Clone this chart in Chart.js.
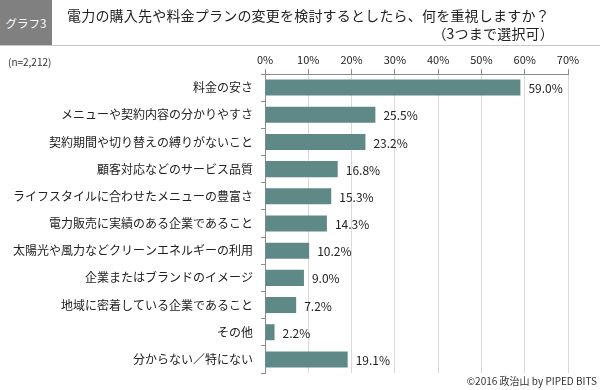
<!DOCTYPE html>
<html lang="ja">
<head>
<meta charset="utf-8">
<title>グラフ3</title>
<script src="https://cdn.jsdelivr.net/npm/chart.js@4/dist/chart.umd.min.js"></script>
<style>
  body { margin: 0; background: #fff; font-family: 'Noto Sans CJK JP', sans-serif; color: #222; }
  #wrap { position: relative; width: 600px; height: 390px; overflow: hidden; }
  #grafico { position: absolute; left: 0; top: 0; }
  .caja { position: absolute; left: 0; top: 0; width: 52px; height: 45px; background: #808080; color: #fff;
          font-size: 11.5px; line-height: 47px; text-align: center; white-space: nowrap; }
  .linea { position: absolute; left: 0; top: 45px; width: 600px; height: 1px; background: #c8c8c8; }
  .titulo1 { position: absolute; left: 67px; top: 6px; font-size: 14px; letter-spacing: 0.2px; line-height: 18px; white-space: nowrap; }
  .titulo2 { position: absolute; right: 46px; top: 24px; font-size: 14px; letter-spacing: 0.2px; line-height: 18px; white-space: nowrap; }
  .nota { position: absolute; left: 8px; top: 55px; font-size: 10px; line-height: 14px; color: #333; }
  .copy { position: absolute; right: 3px; top: 374px; font-size: 10px; line-height: 14px; color: #333; }
</style>
</head>
<body>
<div id="wrap">
  <canvas id="grafico" width="600" height="390"></canvas>
  <div class="caja">グラフ3</div>
  <div class="linea"></div>
  <div class="titulo1">電力の購入先や料金プランの変更を検討するとしたら、何を重視しますか？</div>
  <div class="titulo2">（3つまで選択可）</div>
  <div class="nota">(n=2,212)</div>
  <div class="copy">©2016 政治山 by PIPED BITS</div>
</div>
<script>
const categorias = [
  "料金の安さ",
  "メニューや契約内容の分かりやすさ",
  "契約期間や切り替えの縛りがないこと",
  "顧客対応などのサービス品質",
  "ライフスタイルに合わせたメニューの豊富さ",
  "電力販売に実績のある企業であること",
  "太陽光や風力などクリーンエネルギーの利用",
  "企業またはブランドのイメージ",
  "地域に密着している企業であること",
  "その他",
  "分からない／特にない"
];
const porcentajes = [59.0, 25.5, 23.2, 16.8, 15.3, 14.3, 10.2, 9.0, 7.2, 2.2, 19.1];
const ticksX = [0, 10, 20, 30, 40, 50, 60, 70];

Chart.defaults.font.family = "'Noto Sans CJK JP', sans-serif";
Chart.defaults.color = "#222";

// etiquetas de valor al final de cada barra
const etiquetas = {
  id: "etiquetas",
  afterDatasetsDraw(chart) {
    const ctx = chart.ctx;
    const meta = chart.getDatasetMeta(0);
    ctx.save();
    ctx.font = "12px 'Noto Sans CJK JP', sans-serif";
    ctx.fillStyle = "#222";
    ctx.textAlign = "left";
    ctx.textBaseline = "middle";
    meta.data.forEach((bar, i) => {
      ctx.fillText(porcentajes[i].toFixed(1) + "%", bar.x + 8, bar.y + 1);
    });
    ctx.restore();
  }
};

new Chart(document.getElementById("grafico").getContext("2d"), {
  type: "bar",
  data: {
    labels: categorias,
    datasets: [{
      data: porcentajes,
      backgroundColor: "#5f8987",
      barPercentage: 0.59,
      categoryPercentage: 1
    }]
  },
  options: {
    indexAxis: "y",
    responsive: false,
    animation: false,
    devicePixelRatio: 1,
    layout: { padding: { top: 50, left: 0, right: 32, bottom: 17 } },
    plugins: { legend: { display: false }, tooltip: { enabled: false } },
    scales: {
      x: {
        position: "top",
        min: 0,
        max: 70,
        afterFit: s => { s.height = 24; },
        afterBuildTicks: s => { s.ticks = ticksX.map(v => ({ value: v })); },
        ticks: { font: { size: 11 }, padding: 3, callback: v => v + "%" },
        grid: { color: "#d9d9d9", tickColor: "#8c8c8c", tickLength: 5 },
        border: { color: "#8c8c8c" }
      },
      y: {
        afterFit: s => { s.width = 265; },
        ticks: { font: { size: 12 }, padding: 8 },
        grid: { drawOnChartArea: false, offset: true, color: "#8c8c8c", tickLength: 4 },
        border: { color: "#8c8c8c" }
      }
    }
  },
  plugins: [etiquetas]
});
</script>
</body>
</html>
